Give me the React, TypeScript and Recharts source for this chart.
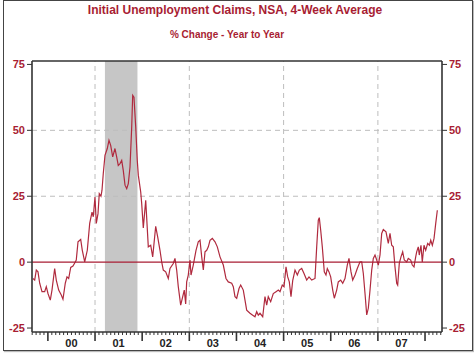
import React from 'react';
import { LineChart, Line, XAxis, YAxis, ReferenceLine, ReferenceArea } from 'recharts';

const YEAR_LABELS = ['00', '01', '02', '03', '04', '05', '06', '07'];
const FIRST_YEAR = 2000;
const Y_TICKS = [-25, 0, 25, 50, 75];
const GRID_Y = [25, 50];
const GRID_X = [2001, 2003, 2005, 2007];
const RECESSION = [2001.21, 2001.9];

// week (decimal year) and 4-week avg claims, % change y/y
const WEEKS = [
  1999.684, 1999.72, 1999.754, 1999.79, 1999.826, 1999.875, 1999.932, 1999.966,
  2000.002, 2000.051, 2000.087, 2000.144, 2000.178, 2000.229, 2000.284, 2000.32, 2000.369, 2000.405, 2000.441, 2000.484,
  2000.532, 2000.569, 2000.602, 2000.639, 2000.696, 2000.73, 2000.781, 2000.836, 2000.887, 2000.936, 2000.963, 2000.999,
  2001.027, 2001.063, 2001.09, 2001.126, 2001.148, 2001.175, 2001.211, 2001.26, 2001.296, 2001.332, 2001.375, 2001.423,
  2001.459, 2001.493, 2001.53, 2001.566, 2001.599, 2001.636, 2001.672, 2001.706, 2001.742, 2001.778, 2001.799, 2001.826,
  2001.863, 2001.896, 2001.918, 2001.969, 2001.99,
  2002.024, 2002.075, 2002.13, 2002.181, 2002.223, 2002.287, 2002.329, 2002.378, 2002.414, 2002.448, 2002.499, 2002.554,
  2002.59, 2002.66, 2002.696, 2002.732, 2002.766, 2002.817, 2002.86, 2002.893, 2002.923, 2002.944, 2002.978,
  2003.014, 2003.036, 2003.084, 2003.142, 2003.19, 2003.227, 2003.263, 2003.297, 2003.333, 2003.369, 2003.403, 2003.439,
  2003.488, 2003.545, 2003.594, 2003.651, 2003.721, 2003.778, 2003.827, 2003.899, 2003.933, 2003.969,
  2004.005, 2004.054, 2004.09, 2004.145, 2004.181, 2004.217, 2004.287, 2004.345, 2004.393, 2004.429, 2004.463, 2004.499,
  2004.557, 2004.605, 2004.641, 2004.675, 2004.726, 2004.781, 2004.839, 2004.888, 2004.924, 2004.972,
  2005.009, 2005.051, 2005.087, 2005.121, 2005.157, 2005.193, 2005.242, 2005.291, 2005.334, 2005.384, 2005.433, 2005.49,
  2005.539, 2005.596, 2005.666, 2005.702, 2005.736, 2005.757, 2005.787, 2005.821, 2005.863, 2005.899, 2005.927, 2005.963,
  2005.999,
  2006.042, 2006.076, 2006.126, 2006.16, 2006.211, 2006.254, 2006.302, 2006.351, 2006.387, 2006.43, 2006.466, 2006.515,
  2006.563, 2006.621, 2006.657, 2006.691, 2006.727, 2006.763, 2006.797, 2006.833, 2006.869, 2006.903, 2006.939, 2006.975,
  2007.009, 2007.045, 2007.081, 2007.115, 2007.172, 2007.221, 2007.257, 2007.293, 2007.327, 2007.363, 2007.399, 2007.42,
  2007.454, 2007.49, 2007.526, 2007.56, 2007.611, 2007.645, 2007.696, 2007.73, 2007.766, 2007.802, 2007.823, 2007.857,
  2007.878, 2007.914, 2007.942, 2007.978,
  2008.014, 2008.057, 2008.093, 2008.121, 2008.155, 2008.191, 2008.227, 2008.261,
];

const CHANGE = [
  -6.2, -6.8, -3.0, -3.7, -8.0, -11.2, -11.2, -9.3,
  -11.9, -14.4, -10.6, -2.4, -6.8, -10.6, -12.5, -14.1, -8.0, -5.6, -6.2, -2.0,
  -1.5, -0.3, 0.8, 7.7, 8.6, 4.5, 0.1, 4.5, 14.7, 19.0, 17.2, 24.7,
  14.7, 18.4, 26.0, 25.0, 27.3, 33.6, 40.5, 43.1, 46.2, 44.3, 39.9, 43.1,
  39.9, 36.7, 37.4, 38.6, 34.8, 29.2, 27.9, 29.8, 36.1, 51.3, 63.3, 62.6,
  51.3, 38.6, 33.0, 26.6, 22.2,
  13.0, 23.5, 5.8, 6.4, 2.0, 13.6, 9.6, 4.5, 0.1, -3.0, -3.7, -6.2,
  -2.4, -0.5, 1.4, -3.0, -9.3, -16.3, -13.1, -10.6, -15.9, -7.5, -4.9,
  0.8, -4.9, -1.1, 4.5, 7.7, 8.3, 2.0, -3.0, 3.9, 4.5, 5.8, 8.3,
  9.0, 7.7, 5.8, 2.0, -1.1, -6.2, -7.5, -8.0, -9.3, -13.1,
  -13.7, -10.0, -8.7, -10.6, -14.4, -18.2, -19.4, -20.1, -20.7, -18.8, -20.1, -19.4,
  -20.7, -13.1, -16.3, -13.1, -15.0, -11.9, -11.2, -10.6, -11.2, -8.7,
  -9.3, -1.8, -5.6, -7.5, -13.1, -7.0, -3.0, -4.9, -3.0, -2.4, -4.3, -6.8,
  -5.6, -6.8, -6.2, 5.8, 15.9, 16.9, 12.1, 5.8, -3.7, -4.9, -2.4, -3.7,
  -5.6,
  -10.6, -13.7, -10.6, -7.5, -6.8, -8.0, -6.2, -1.1, 1.4, -3.7, -6.8, -4.9,
  -2.4, 0.1, 0.1, -4.3, -11.9, -20.0, -17.5, -10.6, -3.0, 1.4, 2.7, 0.8,
  -1.1, 2.7, 10.9, 12.4, 11.5, 7.1, 10.9, 6.4, 5.8, -1.8, -8.0, -8.7,
  -0.5, 2.0, 3.9, 0.8, 0.1, 1.4, 0.8, -1.1, -1.8, 2.0, 3.9, 5.8,
  2.7, 6.4, 0.1, 6.4,
  4.5, 7.1, 6.4, 8.3, 6.4, 9.0, 14.7, 19.7,
];

const data = WEEKS.map((t, i) => ({ t, v: CHANGE[i] }));

const X_DOMAIN: [number, number] = [1999.663, 2008.36];
const Y_DOMAIN: [number, number] = [-26.5, 76.3];

const monthTicks: number[] = [];
for (let y = 1999; y <= 2008; y++) {
  for (let m = 0; m < 12; m++) {
    const t = y + m / 12;
    if (t > X_DOMAIN[0] && t < X_DOMAIN[1]) monthTicks.push(t);
  }
}

const RED = '#a81d33';
const AXIS = '#333';
const FONT = "'Liberation Sans', Arial, sans-serif";

const MonthTick = (props: any) => {
  const { x, y, payload } = props;
  const year = Math.floor(payload.value + 1e-6);
  const frac = payload.value - year;
  const isYear = Math.abs(frac) < 1e-6;
  const isMid = Math.abs(frac - 0.5) < 1e-6;
  const label = YEAR_LABELS[year - FIRST_YEAR];
  return (
    <g>
      <line x1={x} x2={x} y1={y} y2={y + (isYear ? 9 : 3)} stroke={AXIS} strokeWidth={isYear ? 1.6 : 1} />
      {isMid && label && (
        <text x={x} y={y + 15} textAnchor="middle" fontSize={11} fontWeight="bold" fill="#222" fontFamily={FONT}>
          {label}
        </text>
      )}
    </g>
  );
};

const yTick = { fill: RED, fontSize: 11, fontWeight: 'bold', fontFamily: FONT };

export default function App() {
  return (
    <div style={{ position: 'absolute', left: 0, top: 0, width: 474, height: 354, background: '#fff', fontFamily: FONT }}>
      <div
        style={{
          position: 'absolute', left: 3, top: 0, width: 468, height: 349,
          border: '1px solid #444', boxShadow: '1px 1px 1px #bbb',
        }}
      />
      <div style={{ position: 'absolute', left: 0, top: 3, width: 470, textAlign: 'center', color: RED, fontSize: 12, fontWeight: 'bold' }}>
        Initial Unemployment Claims, NSA, 4-Week Average
      </div>
      <div style={{ position: 'absolute', left: 0, top: 29, width: 454, textAlign: 'center', color: RED, fontSize: 10, fontWeight: 'bold' }}>
        % Change - Year to Year
      </div>
      <LineChart width={474} height={354} data={data} margin={{ top: 61, right: 0, left: 0, bottom: 2 }}>
        <XAxis
          dataKey="t"
          type="number"
          domain={X_DOMAIN}
          allowDataOverflow
          ticks={monthTicks}
          interval={0}
          tickSize={0}
          tickMargin={0}
          tickLine={false}
          tick={MonthTick}
          height={20}
          axisLine={{ stroke: AXIS, strokeWidth: 1.6 }}
        />
        <YAxis
          yAxisId="left"
          orientation="left"
          width={32}
          domain={Y_DOMAIN}
          allowDataOverflow
          ticks={Y_TICKS}
          interval={0}
          tickSize={5}
          tickMargin={2}
          tick={yTick}
          tickLine={{ stroke: AXIS }}
          axisLine={{ stroke: AXIS, strokeWidth: 1.6 }}
        />
        <YAxis
          yAxisId="right"
          orientation="right"
          width={32}
          domain={Y_DOMAIN}
          allowDataOverflow
          ticks={Y_TICKS}
          interval={0}
          tickSize={5}
          tickMargin={2}
          tick={yTick}
          tickLine={{ stroke: AXIS }}
          axisLine={{ stroke: AXIS, strokeWidth: 1.6 }}
        />
        <ReferenceArea yAxisId="left" x1={RECESSION[0]} x2={RECESSION[1]} y1={Y_DOMAIN[0]} y2={Y_DOMAIN[1]} fill="#c6c6c6" fillOpacity={1} stroke="none" />
        {GRID_Y.map((g) => (
          <ReferenceLine key={'gy' + g} yAxisId="left" y={g} stroke="#bdbdbd" strokeDasharray="5 4" />
        ))}
        {GRID_X.map((g) => (
          <ReferenceLine key={'gx' + g} yAxisId="left" x={g} stroke="#bdbdbd" strokeDasharray="5 4" />
        ))}
        <ReferenceLine yAxisId="left" y={Y_DOMAIN[1]} stroke={AXIS} strokeWidth={1.6} />
        <Line
          yAxisId="left"
          type="linear"
          dataKey="v"
          stroke="#b02a3e"
          strokeWidth={1.2}
          dot={false}
          isAnimationActive={false}
        />
        <ReferenceLine yAxisId="left" y={0} stroke={RED} strokeWidth={1.4} />
      </LineChart>
    </div>
  );
}
